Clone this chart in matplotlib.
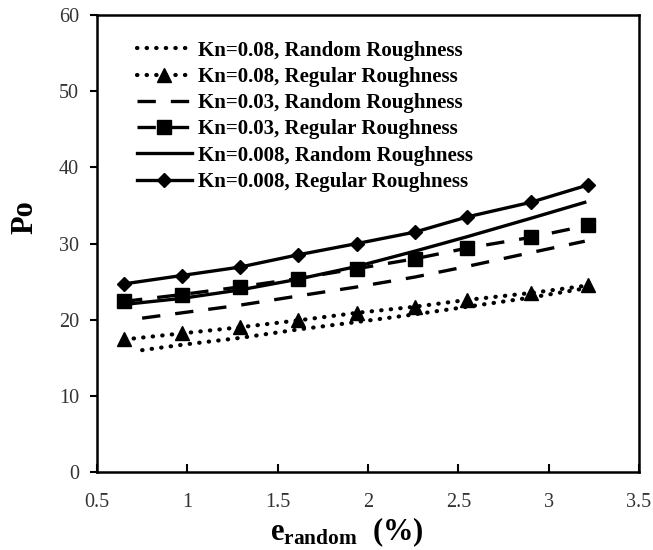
import matplotlib
matplotlib.use("Agg")
import matplotlib.pyplot as plt

plt.rcParams['font.family'] = 'Liberation Serif'
plt.rcParams['mathtext.fontset'] = 'custom'
plt.rcParams['mathtext.bf'] = 'Liberation Serif:bold'
plt.rcParams['mathtext.rm'] = 'Liberation Serif'

# data
x_reg = [0.65, 0.97, 1.29, 1.61, 1.94, 2.26, 2.55, 2.9, 3.22]
x_rand = [0.75, 0.97, 1.29, 1.61, 1.94, 2.26, 2.55, 2.9, 3.2]
x_rand_solid = [0.65, 0.97, 1.29, 1.61, 1.94, 2.26, 2.55, 2.9, 3.2]

kn008_random = [16.0, 16.7, 17.6, 18.7, 19.7, 20.7, 21.7, 22.9, 24.1]
kn008_regular = [17.4, 18.2, 19.0, 19.9, 20.9, 21.7, 22.6, 23.5, 24.5]
kn003_random = [20.2, 20.9, 21.9, 23.1, 24.3, 25.6, 27.0, 28.8, 30.3]
kn003_regular = [22.4, 23.3, 24.3, 25.4, 26.7, 28.0, 29.4, 30.8, 32.4]
kn0008_random = [22.0, 22.8, 23.9, 25.3, 27.0, 29.0, 30.9, 33.3, 35.4]
kn0008_regular = [24.7, 25.8, 26.9, 28.5, 30.0, 31.5, 33.5, 35.4, 37.7]

labels = ["Kn=0.08, Random Roughness", "Kn=0.08, Regular Roughness",
          "Kn=0.03, Random Roughness", "Kn=0.03, Regular Roughness",
          "Kn=0.008, Random Roughness", "Kn=0.008, Regular Roughness"]

fig = plt.figure(figsize=(6.53, 5.5), dpi=100)
ax = fig.add_axes([0.1485, 0.1418, 0.830, 0.8309])

dots = (0, (0.1, 2.2))
dash = (0, (5.5, 4.5))
lw = 2.4

l1, = ax.plot(x_rand, kn008_random, color='black', lw=3, linestyle=dots,
              dash_capstyle='round')
l2, = ax.plot(x_reg, kn008_regular, color='black', lw=3, linestyle=dots,
              dash_capstyle='round', marker='^', markersize=10)
l3, = ax.plot(x_rand, kn003_random, color='black', lw=lw, linestyle=dash)
l4, = ax.plot(x_reg, kn003_regular, color='black', lw=lw, linestyle=dash,
              marker='s', markersize=10)
l5, = ax.plot(x_rand_solid, kn0008_random, color='black', lw=lw)
l6, = ax.plot(x_reg, kn0008_regular, color='black', lw=lw,
              marker='D', markersize=7)

ax.set_xlim(0.5, 3.5)
ax.set_ylim(0, 60)
ax.set_xticks([0.5, 1, 1.5, 2, 2.5, 3, 3.5])
ax.set_xticklabels(["0.5", "1", "1.5", "2", "2.5", "3", "3.5"])
ax.set_yticks(range(0, 61, 10))

ax.tick_params(axis='x', direction='in', length=6, width=1.5, pad=15,
               labelsize=14.5, labelcolor='#333333')
ax.tick_params(axis='y', direction='out', length=5, width=1.5, pad=8,
               labelsize=14.5, labelcolor='#333333')
for s in ax.spines.values():
    s.set_linewidth(1.8)

ax.set_ylabel("Po", fontsize=22, fontweight='bold')
ax.yaxis.set_label_coords(-0.106, 0.558)
ax.set_xlabel(r"$\mathbf{e_{random}}$  (%)", fontsize=22, fontweight='bold')
ax.xaxis.set_label_coords(0.461, -0.095)

leg = ax.legend([l1, l2, l3, l4, l5, l6], labels, loc='upper left',
                bbox_to_anchor=(0.04, 0.985), frameon=False, handlelength=2.6,
                handletextpad=0.33, labelspacing=0.3,
                prop={'family': 'Liberation Serif', 'weight': 'bold', 'size': 15})

fig.savefig("out.png", dpi=100)
